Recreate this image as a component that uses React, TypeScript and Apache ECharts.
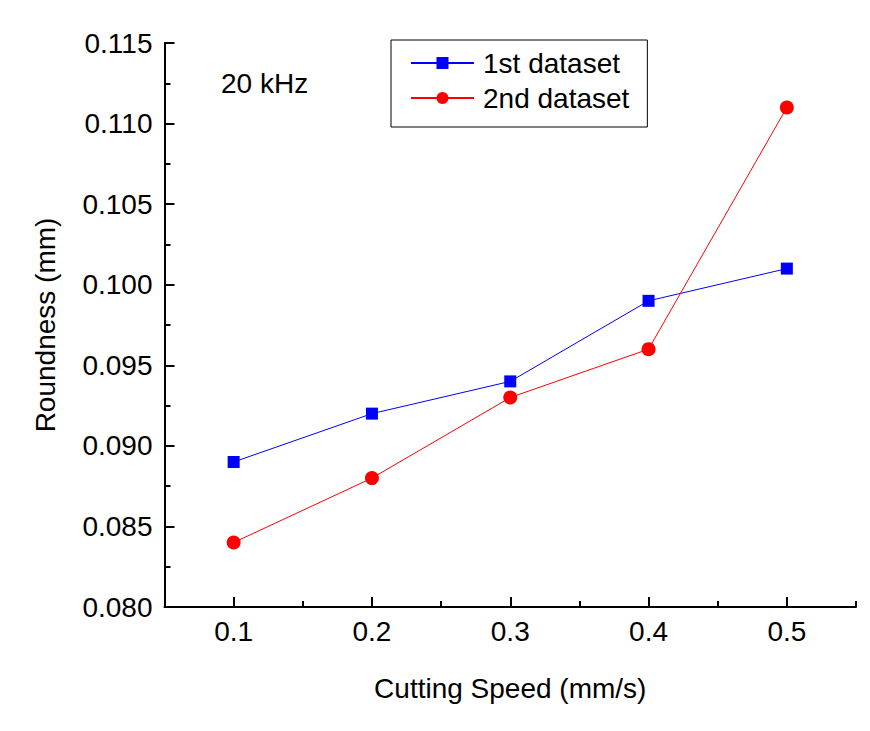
import React, { useEffect, useRef } from 'react';
import * as echarts from 'echarts';

const speeds = [0.1, 0.2, 0.3, 0.4, 0.5];
const firstDataset = [0.089, 0.092, 0.094, 0.099, 0.101];
const secondDataset = [0.084, 0.088, 0.093, 0.096, 0.111];
const xMajorTicks = [0.1, 0.2, 0.3, 0.4, 0.5];
const xMinorTicks = [0.05, 0.15, 0.25, 0.35, 0.45, 0.55];
const seriesNames = ['1st dataset', '2nd dataset'];
const annotation = '20 kHz';
const xTitle = 'Cutting Speed (mm/s)';
const yTitle = 'Roundness (mm)';

const FONT = '"Liberation Sans", Arial, sans-serif';

export default function App() {
  const ref = useRef<HTMLDivElement>(null);
  useEffect(() => {
    document.body.style.margin = '0';
    const chart = echarts.init(ref.current!, null, { renderer: 'svg' });
    const axisLine = { show: true, onZero: false, lineStyle: { color: '#000', width: 2 } };
    chart.setOption({
      animation: false,
      backgroundColor: '#fff',
      textStyle: { fontFamily: FONT, color: '#000' },
      grid: { left: 164.5, right: 14, top: 43, bottom: 124, containLabel: false },
      legend: {
        left: 391,
        top: 40,
        orient: 'vertical',
        borderColor: '#000',
        borderWidth: 1,
        padding: [9, 18, 15, 19],
        itemWidth: 63,
        itemHeight: 15,
        itemGap: 7,
        textStyle: { fontFamily: FONT, fontSize: 28, color: '#000', lineHeight: 28, padding: [0, 0, 0, 4] },
        data: seriesNames,
      },
      graphic: [
        {
          type: 'text',
          left: 221,
          top: 69,
          style: { text: annotation, fontFamily: FONT, fontSize: 28, fill: '#000' },
        },
      ],
      xAxis: [
        {
          type: 'value',
          min: 0.05,
          max: 0.55,
          interval: 0.05,
          position: 'bottom',
          axisLine,
          splitLine: { show: false },
          axisTick: { show: true, inside: true, length: 10, customValues: xMajorTicks, lineStyle: { color: '#000', width: 2 } },
          axisLabel: {
            customValues: xMajorTicks,
            margin: 10,
            fontFamily: FONT,
            fontSize: 28,
            color: '#000',
            formatter: (v: number) => v.toFixed(1),
          },
          name: xTitle,
          nameLocation: 'middle',
          nameGap: 67,
          nameTextStyle: { fontFamily: FONT, fontSize: 28, color: '#000' },
        },
        {
          type: 'value',
          min: 0.05,
          max: 0.55,
          interval: 0.05,
          position: 'bottom',
          axisLine: { show: false, onZero: false },
          splitLine: { show: false },
          axisTick: { show: true, inside: true, length: 6, customValues: xMinorTicks, lineStyle: { color: '#000', width: 2 } },
          axisLabel: { show: false },
        },
      ],
      yAxis: {
        type: 'value',
        min: 0.08,
        max: 0.115,
        interval: 0.005,
        axisLine,
        splitLine: { show: false },
        axisTick: { show: true, inside: true, length: 10, lineStyle: { color: '#000', width: 2 } },
        minorTick: { show: true, splitNumber: 2, length: 6, lineStyle: { color: '#000', width: 2 } },
        axisLabel: {
          margin: 12,
          fontFamily: FONT,
          fontSize: 28,
          color: '#000',
          formatter: (v: number) => v.toFixed(3),
        },
        name: yTitle,
        nameLocation: 'middle',
        nameGap: 105,
        nameTextStyle: { fontFamily: FONT, fontSize: 28, color: '#000' },
      },
      series: [
        {
          name: seriesNames[0],
          type: 'line',
          xAxisIndex: 0,
          data: speeds.map((s, i) => [s, firstDataset[i]]),
          symbol: 'rect',
          symbolSize: 12,
          itemStyle: { color: '#0000ff' },
          lineStyle: { color: '#0000ff', width: 1 },
        },
        {
          name: seriesNames[1],
          type: 'line',
          xAxisIndex: 0,
          data: speeds.map((s, i) => [s, secondDataset[i]]),
          symbol: 'circle',
          symbolSize: 14,
          itemStyle: { color: '#ff0000' },
          lineStyle: { color: '#ff0000', width: 1 },
        },
      ],
    });
    return () => chart.dispose();
  }, []);
  return <div ref={ref} style={{ width: 870, height: 731, position: 'absolute', left: 0, top: 0 }} />;
}
